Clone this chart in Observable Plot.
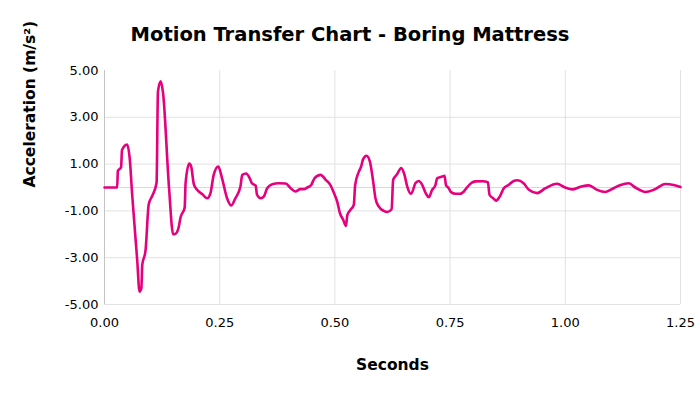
<!DOCTYPE html>
<html>
<head>
<meta charset="utf-8">
<script src="https://cdn.jsdelivr.net/npm/d3@7"></script>
<script src="https://cdn.jsdelivr.net/npm/@observablehq/plot@0.6"></script>
<style>
  html, body { margin: 0; padding: 0; background: #fff; }
  #wrap { width: 700px; height: 394px; overflow: hidden; }
  #title { box-sizing: border-box; height: 60px; padding-top: 23px; line-height: 24px; text-align: center;
           font-family: "DejaVu Sans", sans-serif; font-weight: bold; font-size: 19.5px; color: #000; }
</style>
</head>
<body>
<div id="wrap">
  <div id="title">Motion Transfer Chart - Boring Mattress</div>
  <div id="chart"></div>
</div>
<script>
const titleText = "Motion Transfer Chart - Boring Mattress";
const xLabel = "Seconds";
const yLabel = "Acceleration (m/s²)";
const xTicks = [0, 0.25, 0.5, 0.75, 1.0, 1.25];
const yTicks = [-5, -3, -1, 1, 3, 5];
const seconds = [
  0, 0.0275, 0.029, 0.036, 0.038, 0.049, 0.055, 0.060, 0.071, 0.076, 0.080, 0.082, 0.089, 0.096, 0.1035,
  0.113, 0.116, 0.122, 0.127, 0.140, 0.149, 0.154, 0.161, 0.165, 0.174, 0.176, 0.184, 0.188, 0.194, 0.201,
  0.212, 0.223, 0.230, 0.237, 0.247, 0.255, 0.266, 0.275, 0.284, 0.295, 0.299, 0.3075, 0.315, 0.320, 0.328,
  0.331, 0.339, 0.346, 0.353, 0.364, 0.378, 0.393, 0.404, 0.414, 0.425, 0.4325, 0.44, 0.4485, 0.456, 0.469,
  0.48, 0.49, 0.498, 0.505, 0.511, 0.518, 0.524, 0.527, 0.534, 0.541, 0.544, 0.552, 0.557, 0.561, 0.5686,
  0.576, 0.583, 0.588, 0.595, 0.606, 0.6135, 0.623, 0.6265, 0.634, 0.644, 0.651, 0.657, 0.6655, 0.675, 0.682,
  0.6895, 0.697, 0.704, 0.711, 0.718, 0.722, 0.733, 0.738, 0.741, 0.747, 0.752, 0.762, 0.771, 0.78, 0.787,
  0.796, 0.805, 0.82, 0.832, 0.8355, 0.8435, 0.85, 0.858, 0.8665, 0.877, 0.888, 0.896, 0.909, 0.921, 0.939,
  0.957, 0.982, 1.0, 1.015, 1.033, 1.051, 1.069, 1.087, 1.105, 1.12, 1.138, 1.152, 1.174, 1.192, 1.217,
  1.235, 1.25
];
const acceleration = [
  0, 0, 0.71, 0.87, 1.6, 1.84, 1.18, -0.3, -3.1, -4.45, -4.3, -3.3, -2.7, -0.72, -0.36,
  0.2, 4.1, 4.54, 4.05, 0, -2.0, -1.98, -1.7, -1.28, -0.86, 0.2, 1.02, 0.9, 0.13, -0.1,
  -0.28, -0.46, -0.24, 0.54, 0.9, 0.4, -0.46, -0.77, -0.46, 0.04, 0.54, 0.6, 0.4, 0.18, 0.08,
  -0.31, -0.46, -0.38, -0.03, 0.14, 0.18, 0.17, -0.03, -0.17, -0.07, -0.07, 0, 0.11, 0.4, 0.54,
  0.33, 0.11, -0.24, -0.6, -1.1, -1.38, -1.64, -1.17, -0.95, -0.74, 0.11, 0.68, 0.9, 1.2, 1.36,
  1.11, 0.26, -0.46, -0.81, -1.0, -1.05, -0.93, 0.33, 0.54, 0.83, 0.54, 0.04, -0.27, 0.19, 0.28,
  0.11, -0.24, -0.41, -0.1, 0.09, 0.4, 0.47, 0.5, 0.11, -0.03, -0.2, -0.27, -0.27, -0.17, 0.01,
  0.19, 0.26, 0.27, 0.23, -0.31, -0.46, -0.56, -0.38, -0.03, 0.11, 0.28, 0.31, 0.19, -0.1, -0.24,
  -0.03, 0.16, 0, -0.08, 0.03, 0.09, -0.1, -0.19, -0.03, 0.11, 0.18, 0, -0.19, -0.1, 0.15,
  0.11, 0.02
];

document.getElementById("title").textContent = titleText;
const data = seconds.map((t, i) => ({t, v: acceleration[i]}));
const fmt = d => d.toFixed(2);

const chart = Plot.plot({
  width: 700,
  height: 334,
  marginTop: 10,
  marginBottom: 90,
  marginLeft: 104,
  marginRight: 20,
  style: {fontFamily: "DejaVu Sans, sans-serif", fontSize: "13px", color: "#000", background: "#fff", overflow: "visible"},
  x: {domain: [0, 1.25]},
  y: {domain: [-5, 5]},
  marks: [
    Plot.ruleY(yTicks.filter(d => d !== 5), {stroke: "#e2e2e2", strokeWidth: 1}),
    Plot.ruleY([0], {stroke: "#d9d9d9", strokeWidth: 1}),
    Plot.ruleX(xTicks.filter(d => d !== 0), {stroke: "#e2e2e2", strokeWidth: 1}),
    Plot.ruleX([0], {stroke: "#c4c4c4", strokeWidth: 1}),
    Plot.axisX({ticks: xTicks, tickFormat: fmt, tickSize: 0, tickPadding: 13, fontSize: 13, label: null}),
    Plot.axisY({ticks: yTicks, tickFormat: fmt, tickSize: 0, tickPadding: 6, fontSize: 13, label: null}),
    Plot.text([yLabel], {frameAnchor: "left", dx: -74, rotate: -90, fontWeight: "bold", fontSize: 15.5, fill: "#000"}),
    Plot.text([xLabel], {frameAnchor: "bottom", dy: 65, fontWeight: "bold", fontSize: 15.5, fill: "#000"}),
    Plot.line(data, {x: "t", y: "v", stroke: "#e6007e", strokeWidth: 2.6, curve: "monotone-x"})
  ]
});
document.getElementById("chart").appendChild(chart);
</script>
</body>
</html>
